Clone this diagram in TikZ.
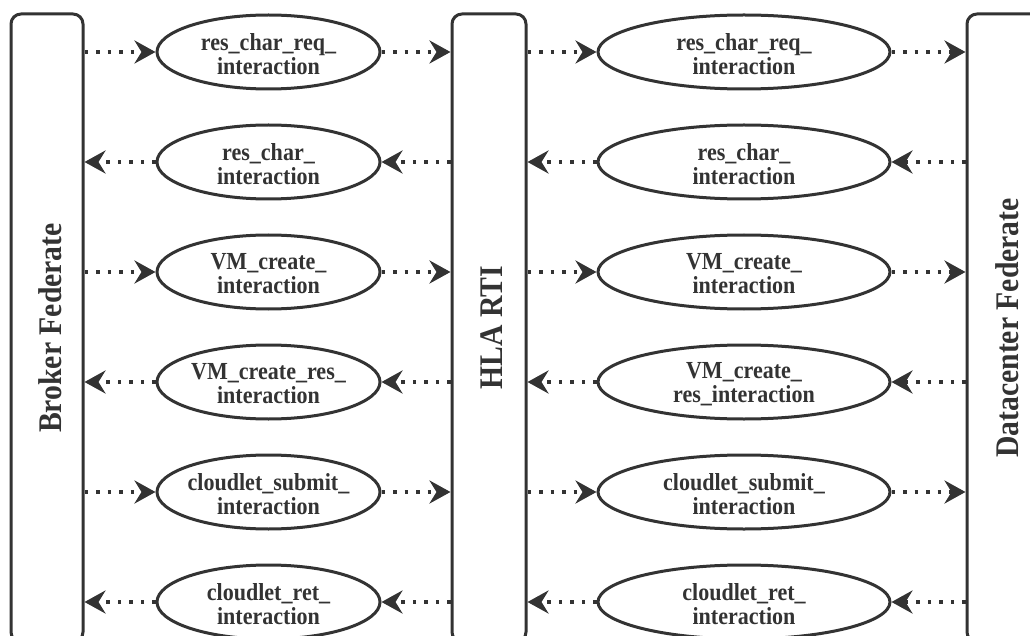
\documentclass[tikz,border=0pt]{standalone}
\usepackage{fontspec}
\setmainfont{Liberation Serif}[FakeStretch=0.9]
\usetikzlibrary{arrows.meta,shapes.geometric}
\definecolor{ink}{RGB}{51,51,51}
\begin{document}
\begin{tikzpicture}[x=1pt,y=-1pt,
  lane/.style={draw=ink, line width=3pt, rounded corners=10pt,
    minimum height=628pt, inner sep=0pt},
  lanetext/.style={rotate=90, text=ink, inner sep=0pt,
    font=\fontsize{33}{36}\selectfont\bfseries},
  msg/.style={ellipse, draw=ink, line width=3pt, inner sep=0pt,
    minimum height=74pt},
  msgL/.style={msg, minimum width=223pt},
  msgR/.style={msg, minimum width=292pt},
  msgtext/.style={text=ink, align=center, inner sep=0pt, yshift=-2pt,
    font=\fontsize{24.5}{24}\selectfont\bfseries},
  flow/.style={draw=ink, line width=3.5pt, dash pattern=on 3.5pt off 8pt,
    -{Stealth[length=21pt, width=23pt, inset=7pt]}},
]
\useasboundingbox (0,0) rectangle (1030,636);

% federates and the RTI
\node[lane, minimum width=72pt] (broker) at (47,328) {};
\node[lane, minimum width=74pt] (rti) at (489,328) {};
\node[lane, minimum width=74pt] (dc) at (1004,328) {};
\node[lanetext] (brokertxt) at ([xshift=3pt]broker.center) {Broker Federate};
\node[lanetext] (rtitxt) at ([xshift=3pt]rti.center) {HLA RTI};
\node[lanetext] (dctxt) at ([xshift=3pt]dc.center) {Datacenter Federate};

% interactions between broker and RTI
\node[msgL, label={[msgtext]center:{res\_char\_req\_\\interaction}}] (L1) at (268.5,52) {};
\node[msgL, label={[msgtext]center:{res\_char\_\\interaction}}] (L2) at (268.5,162) {};
\node[msgL, label={[msgtext]center:{VM\_create\_\\interaction}}] (L3) at (268.5,272) {};
\node[msgL, label={[msgtext]center:{VM\_create\_res\_\\interaction}}] (L4) at (268.5,382) {};
\node[msgL, label={[msgtext]center:{cloudlet\_submit\_\\interaction}}] (L5) at (268.5,492) {};
\node[msgL, label={[msgtext]center:{cloudlet\_ret\_\\interaction}}] (L6) at (268.5,602) {};

% interactions between RTI and datacenter
\node[msgR, label={[msgtext]center:{res\_char\_req\_\\interaction}}] (R1) at (744,52) {};
\node[msgR, label={[msgtext]center:{res\_char\_\\interaction}}] (R2) at (744,162) {};
\node[msgR, label={[msgtext]center:{VM\_create\_\\interaction}}] (R3) at (744,272) {};
\node[msgR, label={[msgtext]center:{VM\_create\_\\res\_interaction}}] (R4) at (744,382) {};
\node[msgR, label={[msgtext]center:{cloudlet\_submit\_\\interaction}}] (R5) at (744,492) {};
\node[msgR, label={[msgtext]center:{cloudlet\_ret\_\\interaction}}] (R6) at (744,602) {};

% requests: broker -> RTI -> datacenter
\foreach \i in {1,3,5} {
  \draw[flow] (broker.east |- L\i) -- (L\i.west);
  \draw[flow] (L\i.east) -- (rti.west |- L\i);
  \draw[flow] (rti.east |- R\i) -- (R\i.west);
  \draw[flow] (R\i.east) -- (dc.west |- R\i);
}
% responses: datacenter -> RTI -> broker
\foreach \i in {2,4,6} {
  \draw[flow] (dc.west |- R\i) -- (R\i.east);
  \draw[flow] (R\i.west) -- (rti.east |- R\i);
  \draw[flow] (rti.west |- L\i) -- (L\i.east);
  \draw[flow] (L\i.west) -- (broker.east |- L\i);
}
\end{tikzpicture}
\end{document}
